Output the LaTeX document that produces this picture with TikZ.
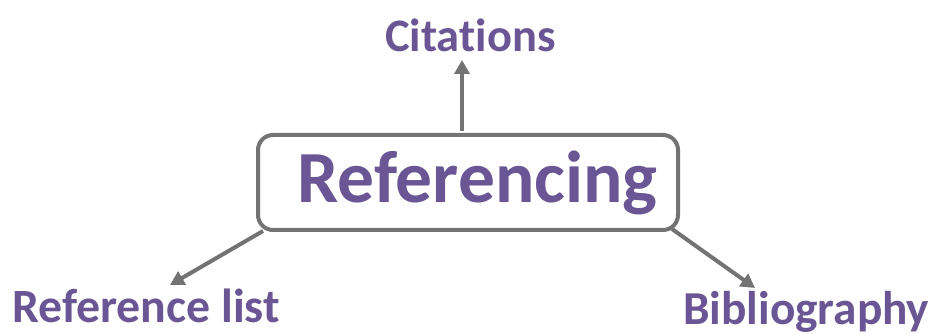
\documentclass[tikz,border=0pt]{standalone}
\usepackage{fontspec}
\setmainfont{Carlito}[Ligatures=NoCommon]
\usetikzlibrary{arrows.meta,calc}
\definecolor{refpurple}{RGB}{106,86,148}
\definecolor{refgrey}{RGB}{115,115,115}
\tikzset{
  conn/.style={draw=refgrey,line width=4pt,-{Triangle[length=14pt,width=15pt]}},
  lbl/.style={text=refpurple,font=\bfseries\fontsize{46.5}{52}\selectfont,inner sep=0pt,anchor=base west},
  mainbox/.style={draw=refgrey,line width=4pt,rounded corners=15pt,minimum width=420pt,minimum height=95pt,inner sep=0pt}
}
\begin{document}
\begin{tikzpicture}[x=1pt,y=1pt]
\useasboundingbox (0,0) rectangle (931,334);
\node[mainbox] (box) at (468,151.5) {};
\node[lbl,font=\bfseries\fontsize{73.5}{80}\selectfont] (reftext) at (297,131) {Referencing};
\node[lbl] (cit) at (385,282) {Citations};
\node[lbl,font=\bfseries\fontsize{47.8}{52}\selectfont] (rlist) at (12,11) {Reference list};
\node[lbl,font=\bfseries\fontsize{47.3}{52}\selectfont] (bib) at (683,9) {Bibliography};
\coordinate (tipc) at (462,274);
\coordinate (tipl) at (170,49);
\coordinate (tipr) at (755,46);
\draw[conn] ($(box.north)+(-6,2)$) -- (tipc);
\draw[conn] ($(box.south west)+(7,1)$) -- (tipl);
\draw[conn] ($(box.south east)+(-8,3)$) -- (tipr);
\end{tikzpicture}
\end{document}
